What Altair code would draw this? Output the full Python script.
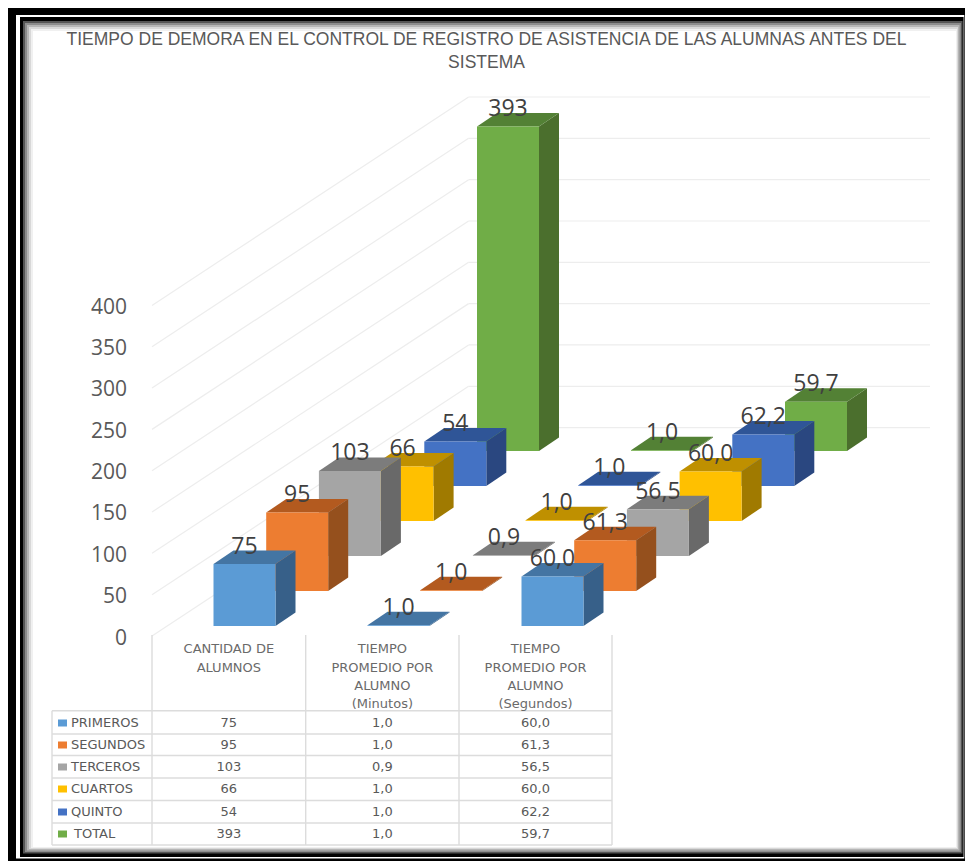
import altair as alt
import pandas as pd

title_lines = ["TIEMPO DE DEMORA EN  EL CONTROL DE REGISTRO DE ASISTENCIA DE LAS  ALUMNAS ANTES DEL", "SISTEMA"]
series = ["PRIMEROS", "SEGUNDOS", "TERCEROS", "CUARTOS", "QUINTO", "TOTAL"]
cantidad = [75, 95, 103, 66, 54, 393]
minutos = [1.0, 1.0, 0.9, 1.0, 1.0, 1.0]
segundos = [60.0, 61.3, 56.5, 60.0, 62.2, 59.7]
headers = [
    ["CANTIDAD DE", "ALUMNOS"],
    ["TIEMPO", "PROMEDIO POR", "ALUMNO", "(Minutos)"],
    ["TIEMPO", "PROMEDIO POR", "ALUMNO", "(Segundos)"],
]
ticks = [0, 50, 100, 150, 200, 250, 300, 350, 400]
front_colors = ["#5B9BD5", "#ED7D31", "#A5A5A5", "#FFC000", "#4472C4", "#70AD47"]
top_colors = ["#4475A3", "#B35A1F", "#7C7C7C", "#BF9000", "#2F5597", "#538135"]
side_colors = ["#376089", "#95501D", "#696969", "#A07A00", "#2A4780", "#4B6F2D"]

# oblique projection of (category, series, value) on the page
X0, Y0 = 213.5, 626.0
CAT_DX = 154.0
SER_DX, SER_DY = 52.7, 35.0
BAR_W = 62.0
DEPTH_X, DEPTH_Y = 20.0, 13.5
PX_PER_UNIT = 0.826
FLOOR_X0, FLOOR_Y0 = 152.0, 636.0
BACK_X, BACK_Y, RIGHT_X = 468.6, 427.6, 930.0
PAGE_W, PAGE_H = 957, 853


def fmt(v):
    return f"{v:.1f}".replace(".", ",")


columns = [cantidad, minutos, segundos]
faces, labels = [], []
fid = 0
for s in range(5, -1, -1):
    for c, col in enumerate(columns):
        v = col[s]
        xl = X0 + c * CAT_DX + s * SER_DX
        xr = xl + BAR_W
        yb = Y0 - s * SER_DY
        yt = yb - v * PX_PER_UNIT
        # side face
        faces += [
            dict(f=fid, x=xr, y=yb, y2=yt, fill=side_colors[s]),
            dict(f=fid, x=xr + DEPTH_X, y=yb - DEPTH_Y, y2=yt - DEPTH_Y, fill=side_colors[s]),
        ]
        fid += 1
        # top face
        faces += [
            dict(f=fid, x=xl, y=yt, y2=yt, fill=top_colors[s]),
            dict(f=fid, x=xl + DEPTH_X, y=yt, y2=yt - DEPTH_Y, fill=top_colors[s]),
            dict(f=fid, x=xr, y=yt, y2=yt - DEPTH_Y, fill=top_colors[s]),
            dict(f=fid, x=xr + DEPTH_X, y=yt - DEPTH_Y, y2=yt - DEPTH_Y, fill=top_colors[s]),
        ]
        fid += 1
        # front face
        faces += [
            dict(f=fid, x=xl, y=yb, y2=yt, fill=front_colors[s]),
            dict(f=fid, x=xr, y=yb, y2=yt, fill=front_colors[s]),
        ]
        fid += 1
        labels.append(dict(x=(xl + xr) / 2, y=yt - 17.5, t=str(v) if c == 0 else fmt(v)))

x_scale = alt.Scale(domain=[8, 8 + PAGE_W], nice=False, zero=False)
y_scale = alt.Scale(domain=[8 + PAGE_H, 8], nice=False, zero=False)
X = alt.X("x:Q", scale=x_scale, axis=None)
Y = alt.Y("y:Q", scale=y_scale, axis=None)


def text_layer(rows, size, font, color="#595959", align="center"):
    return alt.Chart(pd.DataFrame(rows)).mark_text(
        fontSize=size, font=font, color=color, align=align, baseline="middle"
    ).encode(x=X, y=Y, text="t:N")


# picture frame, nested outer to inner
frame = [
    (8, 8, 965, 861, "#000000"),
    (16, 15, 964.3, 858.5, "#FFFFFF"),
    (20, 17, 963.6, 857, "#000000"),
    (23, 21, 962.5, 853.5, "#555555"),
    (25, 23, 961, 852, "#8C8C8C"),
    (27, 25, 959.5, 850.5, "#B5B5B5"),
    (29, 27, 958, 849, "#D8D8D8"),
    (31, 29, 957, 848, "#F0F0F0"),
    (33, 31, 956, 847, "#FFFFFF"),
]
frame_df = pd.DataFrame(frame, columns=["x", "y", "x2", "y2", "fill"]).reset_index()
frame_layer = alt.Chart(frame_df).mark_rect().encode(
    x=X, x2="x2:Q", y=Y, y2="y2:Q",
    fill=alt.Fill("fill:N", scale=None),
    order="index:Q",
)

# walls' gridlines
grid_rows = []
for t in ticks:
    back_y = BACK_Y - t * 0.8265
    grid_rows.append(dict(x=FLOOR_X0, x2=BACK_X, y=FLOOR_Y0 - t * 0.8265, y2=back_y))
    grid_rows.append(dict(x=BACK_X, x2=RIGHT_X, y=back_y, y2=back_y))
grid = alt.Chart(pd.DataFrame(grid_rows)).mark_rule(color="#EDEDED", strokeWidth=1.2).encode(
    x=X, x2="x2:Q", y=Y, y2="y2:Q"
)

faces_layer = alt.Chart(pd.DataFrame(faces)).mark_area(opacity=1, interpolate="linear").encode(
    x=X, y=Y, y2="y2:Q",
    detail="f:N",
    fill=alt.Fill("fill:N", scale=None),
)

# table
col_x = [52, 152, 305.7, 459, 612]
row_y = [710.7, 734, 755.5, 778, 800.5, 823, 845]
table_top = 635
table_rows = []
for i, x in enumerate(col_x):
    table_rows.append(dict(x=x, x2=x, y=table_top if i else row_y[0], y2=row_y[-1]))
for y in row_y:
    table_rows.append(dict(x=col_x[0], x2=col_x[-1], y=y, y2=y))
table = alt.Chart(pd.DataFrame(table_rows)).mark_rule(color="#DCDCDC", strokeWidth=1.4).encode(
    x=X, x2="x2:Q", y=Y, y2="y2:Q"
)

FONT_T = "DejaVu Sans"
header_rows = []
header_y = [649, 668, 686, 704]
for i, lines in enumerate(headers):
    for j, t in enumerate(lines):
        header_rows.append(dict(x=(col_x[i + 1] + col_x[i + 2]) / 2, y=header_y[j], t=t))

cell_rows, legend_rows, swatches = [], [], []
text_y = [723, 745, 767, 789, 812, 834]
for s, name in enumerate(series):
    legend_rows.append(dict(x=71 if name != "TOTAL" else 74, y=text_y[s], t=name))
    swatches.append(dict(x=58, x2=67, y=text_y[s] - 3.5, y2=text_y[s] + 3.5, fill=front_colors[s]))
    for c, col in enumerate(columns):
        t = str(col[s]) if c == 0 else fmt(col[s])
        cell_rows.append(dict(x=(col_x[c + 1] + col_x[c + 2]) / 2, y=text_y[s], t=t))

swatch_layer = alt.Chart(pd.DataFrame(swatches)).mark_rect().encode(
    x=X, x2="x2:Q", y=Y, y2="y2:Q", fill=alt.Fill("fill:N", scale=None)
)

axis_rows = [dict(x=127, y=638.5 - t * 0.8275, t=str(t)) for t in ticks]
title_rows = [dict(x=486.5, y=40, t=title_lines[0]), dict(x=486.5, y=62.5, t=title_lines[1])]

chart = alt.layer(
    frame_layer,
    grid,
    faces_layer,
    table,
    swatch_layer,
    text_layer(labels, 23, "Open Sans", "#404040"),
    text_layer(axis_rows, 21, "Open Sans", "#595959", "right"),
    text_layer(title_rows, 17.5, "Liberation Sans"),
    text_layer(header_rows, 13, FONT_T, "#6a6a6a"),
    text_layer(cell_rows, 13, FONT_T),
    text_layer(legend_rows, 13, FONT_T, "#595959", "left"),
).properties(
    width=PAGE_W, height=PAGE_H, padding=0,
    autosize=alt.AutoSizeParams(type="none"), background="white",
).configure_view(stroke=None)

chart.save("out.html", embed_options={"renderer": "svg", "actions": False})
